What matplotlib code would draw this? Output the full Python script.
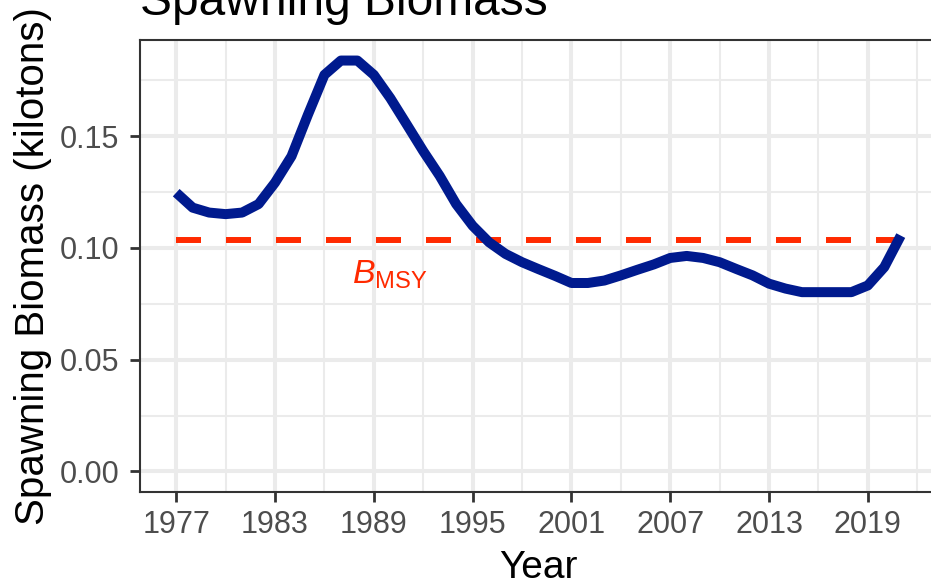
import matplotlib
matplotlib.use("Agg")
import matplotlib.pyplot as plt
import numpy as np

years = list(range(1977, 2022))
biomass = [0.1247, 0.1180, 0.1158, 0.1151, 0.1158, 0.1196, 0.1292, 0.1410, 0.1596, 0.1774,
           0.1838, 0.1838, 0.1774, 0.1670, 0.1552, 0.1433, 0.1322, 0.1196, 0.1099, 0.1025,
           0.0973, 0.0936, 0.0905, 0.0875, 0.0843, 0.0843, 0.0854, 0.0877, 0.0902, 0.0926,
           0.0955, 0.0964, 0.0955, 0.0936, 0.0906, 0.0877, 0.0840, 0.0818, 0.0802, 0.0802,
           0.0802, 0.0802, 0.0832, 0.0914, 0.1055]
bmsy = 0.1037
x_ticks = [1977, 1983, 1989, 1995, 2001, 2007, 2013, 2019]
y_ticks = [0.00, 0.05, 0.10, 0.15]
y_labels = ["0.00", "0.05", "0.10", "0.15"]

plt.rcParams['font.family'] = ['Liberation Sans', 'DejaVu Sans']
plt.rcParams['mathtext.fontset'] = 'custom'
plt.rcParams['mathtext.rm'] = 'Liberation Sans'
plt.rcParams['mathtext.it'] = 'Liberation Sans:italic'
plt.rcParams['lines.scale_dashes'] = False

W, H = 931, 582
fig = plt.figure(figsize=(W / 100, H / 100), dpi=100)
left, right, top, bottom = 140, 937, 40, 492
ax = fig.add_axes([left / W, 1 - bottom / H, (right - left) / W, (bottom - top) / H])

xmin, xmax = min(years), max(years)
pad = 0.05 * (xmax - xmin)
ax.set_xlim(xmin - pad, xmax + pad)
ymax = max(biomass)
ax.set_ylim(-0.05 * ymax, ymax * 1.05)

ax.set_xticks(x_ticks)
ax.set_xticks([t + 3 for t in x_ticks], minor=True)
ax.set_yticks(y_ticks)
ax.set_yticklabels(y_labels)
ax.set_yticks([t + 0.025 for t in y_ticks], minor=True)

ax.grid(which='major', color='#EBEBEB', linewidth=2.9, zorder=0)
ax.grid(which='minor', color='#EBEBEB', linewidth=1.45, zorder=0)
ax.set_axisbelow(True)

ax.tick_params(which='major', length=7, width=2, color='#333333',
               labelsize=22, labelcolor='#4D4D4D')
ax.tick_params(axis='x', which='major', pad=6)
ax.tick_params(axis='y', which='major', pad=8)
ax.tick_params(which='minor', length=0)
for s in ax.spines.values():
    s.set_color('#333333')
    s.set_linewidth(1.5)

ax.plot([xmin, xmax], [bmsy, bmsy], color='#FF2A00', linewidth=4.3,
        dashes=(18, 18), solid_capstyle='butt', dash_capstyle='butt', zorder=3)
ax.plot(years, biomass, color='#001A8E', linewidth=7.2,
        solid_capstyle='butt', solid_joinstyle='round', zorder=4)
ax.text(1990.0, 0.0879, r'$B_{\mathrm{MSY}}$', color='#FF2A00', fontsize=24.5,
        ha='center', va='center')

ax.set_xlabel('Year', fontsize=28, labelpad=7)
ax.set_ylabel('Spawning Biomass (kilotons)', fontsize=29, labelpad=5)
fig.text(left / W, 1 - 15 / H, 'Spawning Biomass', fontsize=34.5,
         ha='left', va='baseline')

fig.savefig('out.png', dpi=100)
